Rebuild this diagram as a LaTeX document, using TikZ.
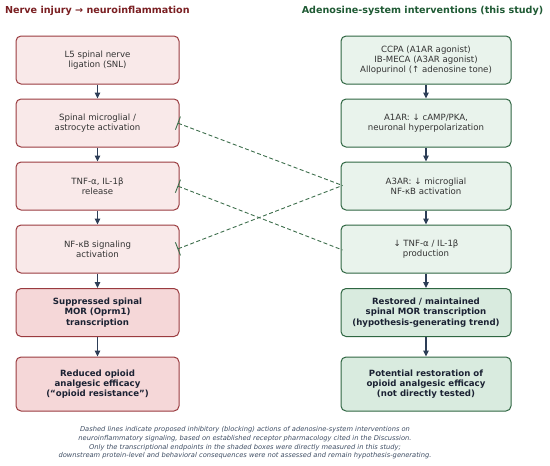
\documentclass[tikz,border=0pt]{standalone}
\usepackage{fontspec}
\setmainfont{DejaVu Sans}
\usetikzlibrary{arrows.meta}
\definecolor{redborder}{HTML}{9A3B3F}
\definecolor{redfill}{HTML}{F9E9E9}
\definecolor{redfilldark}{HTML}{F5D7D8}
\definecolor{redtitle}{HTML}{7A1F22}
\definecolor{greenborder}{HTML}{2F6642}
\definecolor{greenfill}{HTML}{E9F3EC}
\definecolor{greenfilldark}{HTML}{D9EBDF}
\definecolor{greentitle}{HTML}{1F5A34}
\definecolor{arrowcol}{HTML}{2D3E57}
\definecolor{dashcol}{HTML}{3D6E4C}
\definecolor{textcol}{HTML}{333333}
\definecolor{boldtext}{HTML}{1B2233}
\definecolor{notecol}{HTML}{3E4D63}
\tikzset{
  box/.style={draw, rounded corners=5pt, line width=1pt, align=center,
    text=textcol, font=\fontsize{8.6}{10.3}\selectfont, inner sep=0pt},
  lbox/.style={box, draw=redborder, fill=redfill, minimum width=163pt, minimum height=48pt},
  lboxb/.style={lbox, fill=redfilldark, text=boldtext, font=\fontsize{8.6}{10.3}\selectfont\bfseries, minimum height=48pt},
  rbox/.style={box, draw=greenborder, fill=greenfill, minimum width=170pt, minimum height=48pt},
  rboxb/.style={rbox, fill=greenfilldark, text=boldtext, font=\fontsize{8.6}{10.3}\selectfont\bfseries},
  flow/.style={draw=arrowcol, line width=1.2pt, -{Triangle[length=6pt,width=5.5pt]}},
  block/.style={draw=dashcol, line width=0.9pt, dash pattern=on 4pt off 2.5pt, {Bar[width=14pt]}-},
  ttl/.style={font=\fontsize{9.6}{11}\selectfont\bfseries}
}
\begin{document}
\begin{tikzpicture}[x=1pt,y=-1pt]
\useasboundingbox (0,0) rectangle (550,466);
\node[ttl, text=redtitle, anchor=west, inner sep=0pt] (tl) at (5,11) {Nerve injury → neuroinflammation};
\node[ttl, text=greentitle, inner sep=0pt] (tr) at (422.5,11) {Adenosine-system interventions (this study)};

\node[lbox] (l1) at (97.5,60) {L5 spinal nerve\\ligation (SNL)};
\node[lbox] (l2) at (97.5,123) {Spinal microglial /\\astrocyte activation};
\node[lbox] (l3) at (97.5,186) {TNF-α, IL-1β\\release};
\node[lbox] (l4) at (97.5,249) {NF-κB signaling\\activation};
\node[lboxb] (l5) at (97.5,312.5) {Suppressed spinal\\MOR (Oprm1)\\transcription};
\node[lboxb, minimum height=54pt] (l6) at (97.5,384) {Reduced opioid\\analgesic efficacy\\(“opioid resistance”)};

\node[rbox] (r1) at (426,60) {CCPA (A1AR agonist)\\IB-MECA (A3AR agonist)\\Allopurinol (↑ adenosine tone)};
\node[rbox] (r2) at (426,123) {A1AR: ↓ cAMP/PKA,\\neuronal hyperpolarization};
\node[rbox] (r3) at (426,186) {A3AR: ↓ microglial\\NF-κB activation};
\node[rbox] (r4) at (426,249) {↓ TNF-α / IL-1β\\production};
\node[rboxb] (r5) at (426,312.5) {Restored / maintained\\spinal MOR transcription\\(hypothesis-generating trend)};
\node[rboxb, minimum height=54pt] (r6) at (426,384) {Potential restoration of\\opioid analgesic efficacy\\(not directly tested)};

\foreach \a/\b in {l1/l2,l2/l3,l3/l4,l4/l5,l5/l6,r1/r2,r2/r3,r3/r4,r4/r5,r5/r6}
  \draw[flow] (\a.south) -- (\b.north);

\coordinate (m2) at ([xshift=-2pt]l2.east);
\coordinate (m3) at ([xshift=-2pt]l3.east);
\coordinate (m4) at ([xshift=-2pt]l4.east);
\coordinate (a3) at ([xshift=2pt,yshift=0.5pt]r3.west);
\coordinate (a4) at ([xshift=2pt,yshift=-1pt]r4.west);
\draw[block] (m2) -- (a3);
\draw[block] (m3) -- (a4);
\draw[block] (m4) -- (a3);

\node[font=\fontsize{6.7}{8.7}\selectfont\itshape, text=notecol, align=center] (note) at (245,443)
{Dashed lines indicate proposed inhibitory (blocking) actions of adenosine-system interventions on\\
neuroinflammatory signaling, based on established receptor pharmacology cited in the Discussion.\\
Only the transcriptional endpoints in the shaded boxes were directly measured in this study;\\
downstream protein-level and behavioral consequences were not assessed and remain hypothesis-generating.};
\end{tikzpicture}
\end{document}
